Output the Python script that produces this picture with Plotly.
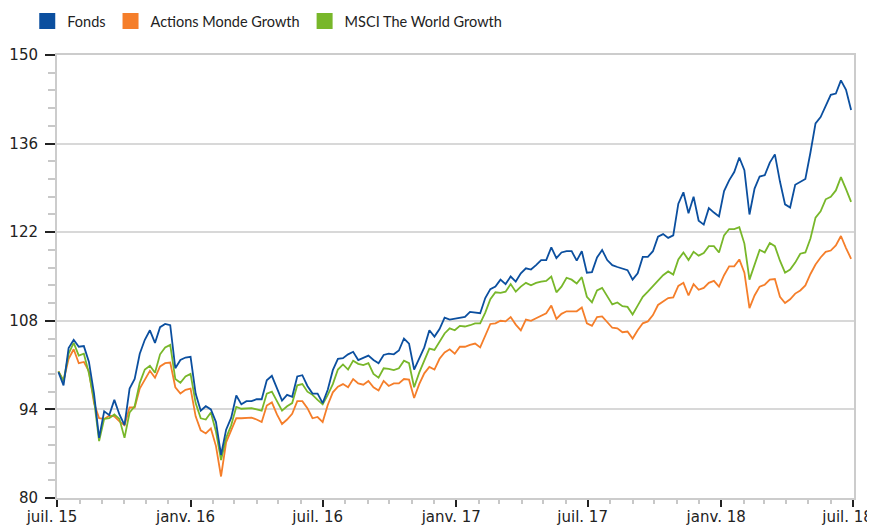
import pandas as pd
import plotly.graph_objects as go

# Weekly closing values (base 100)
fonds = [
    99.9, 97.8, 103.7, 105.0, 103.9, 104.0, 101.5, 96.5, 89.5, 93.7,
    93.1, 95.5, 93.2, 91.5, 97.3, 98.8, 102.8, 105.0, 106.5, 104.5,
    107.0, 107.5, 107.3, 100.5, 101.8, 102.2, 102.3, 96.5, 93.8, 94.5,
    94.0, 92.0, 86.8, 90.8, 92.7, 96.2, 94.8, 95.3, 95.3, 95.6,
    95.6, 98.6, 99.3, 97.3, 95.4, 96.3, 96.0, 99.2, 99.4, 97.7,
    96.5, 96.5, 95.0, 97.1, 100.2, 102.0, 102.1, 102.7, 103.1, 101.8,
    102.1, 102.5, 101.8, 101.3, 102.6, 102.8, 102.7, 103.3, 105.2, 104.4,
    100.3, 102.2, 103.8, 106.5, 105.5, 106.7, 108.5, 108.2, 108.3, 108.5,
    108.6, 109.4, 109.3, 109.2, 111.6, 113.0, 113.4, 114.5, 113.8, 115.0,
    114.2, 115.5, 116.3, 116.1, 116.8, 117.6, 117.6, 119.6, 117.9, 118.8,
    119.0, 119.0, 117.5, 119.0, 115.6, 115.7, 118.0, 119.2, 117.6, 116.8,
    116.5, 116.2, 116.0, 114.5, 115.5, 118.1, 118.1, 119.0, 121.3, 121.7,
    121.1, 121.5, 126.5, 128.3, 125.0, 127.6, 123.8, 123.2, 125.8, 125.1,
    124.5, 128.5, 130.2, 131.5, 133.8, 131.8, 124.8, 128.9, 130.8, 131.0,
    133.0, 134.3, 130.0, 126.4, 125.9, 129.5, 130.0, 130.4, 134.6, 139.2,
    140.2, 141.9, 143.7, 143.9, 146.0, 144.5, 141.3,
]

actions_monde_growth = [
    100.0, 98.5, 102.0, 103.5, 101.3, 101.5, 100.0, 95.0, 92.6, 92.5,
    93.0, 92.9, 92.1, 91.5, 94.3, 94.3, 97.3, 98.8, 100.1, 99.0,
    100.8, 101.3, 101.4, 97.5, 96.5, 97.1, 97.3, 92.9, 90.7, 90.2,
    91.0, 88.2, 83.4, 88.8, 90.7, 92.6, 92.6, 92.6, 92.7, 92.4,
    92.0, 94.6, 95.1, 93.2, 91.7, 92.4, 93.3, 95.3, 95.3, 94.2,
    92.6, 92.8, 92.0, 94.7, 96.7, 97.6, 98.0, 97.5, 98.8, 98.1,
    97.9, 98.5, 97.5, 97.0, 98.5, 97.7, 98.1, 98.1, 98.8, 98.7,
    95.8, 98.0, 99.7, 100.7, 100.3, 102.0, 103.0, 103.5, 102.8, 103.9,
    103.9, 104.2, 104.4, 103.8, 105.8, 107.5, 107.6, 108.0, 107.9, 108.6,
    107.4, 106.5, 108.2, 108.0, 108.4, 108.8, 109.2, 110.4, 108.3, 109.1,
    109.5, 109.5, 109.5, 110.1, 107.6, 107.2, 108.6, 108.7, 107.8, 106.9,
    106.8, 106.2, 106.3, 105.2, 106.5, 107.6, 107.9, 108.9, 110.5, 111.0,
    111.6, 111.7, 113.5, 114.0, 112.0, 113.8, 112.9, 113.2, 114.0, 114.3,
    113.4, 115.2, 116.6, 116.6, 117.7, 115.6, 110.0, 112.0, 113.4, 113.7,
    114.5, 114.6, 111.8, 110.8, 111.4, 112.3, 112.8, 113.6, 115.4, 116.9,
    118.0, 118.9, 119.1, 119.9, 121.4, 119.5, 117.8,
]

msci_world_growth = [
    100.0, 98.5, 102.8, 104.5, 102.5, 102.8, 99.7, 95.5, 89.0, 92.5,
    92.6, 93.2, 92.5, 89.5, 93.5, 94.5, 98.2, 100.3, 100.9, 99.8,
    102.7, 103.8, 104.2, 98.8, 98.2, 99.2, 99.6, 95.0, 92.6, 92.4,
    93.5, 90.5, 86.0, 89.5, 91.5, 94.4, 94.1, 94.2, 94.2, 94.0,
    93.8, 96.5, 96.8, 95.3, 93.8, 94.5, 95.0, 97.8, 98.0, 96.8,
    96.3, 95.5, 94.8, 96.3, 98.0, 100.3, 101.1, 100.3, 101.7, 101.2,
    101.0, 101.3, 99.6, 99.0, 100.5, 100.4, 100.2, 100.5, 101.7, 101.3,
    97.5, 99.8, 101.8, 103.6, 103.4, 104.8, 106.0, 106.8, 106.5, 107.2,
    107.1, 107.3, 107.6, 107.6, 109.3, 111.4, 112.5, 112.4, 112.6, 113.8,
    112.6, 113.4, 114.0, 113.6, 114.0, 114.2, 114.3, 115.0, 112.5, 113.4,
    114.8, 114.5, 113.9, 114.9, 111.8, 110.9, 112.8, 113.2, 111.8, 110.6,
    110.9, 110.3, 110.2, 109.0, 110.4, 111.8, 112.6, 113.5, 114.4, 115.2,
    115.8, 115.3, 117.7, 118.8, 117.6, 118.9, 118.3, 118.7, 119.8, 119.8,
    118.8, 121.5, 122.5, 122.5, 122.8, 120.2, 114.5, 117.0, 119.2, 118.8,
    120.3, 119.8, 117.5, 115.6, 116.1, 117.2, 118.6, 118.8, 121.0, 124.3,
    125.3, 127.2, 127.6, 128.6, 130.7, 128.8, 126.8,
]

dates = pd.date_range("2015-07-03", periods=len(fonds), freq="7D")

tick_dates = ["2015-07-01", "2016-01-01", "2016-07-01", "2017-01-01",
              "2017-07-01", "2018-01-01", "2018-07-01"]
tick_labels = ["juil. 15", "janv. 16", "juil. 16", "janv. 17",
               "juil. 17", "janv. 18", "juil. 18"]
y_ticks = [80, 94, 108, 122, 136, 150]

series = [
    ("Fonds", fonds, "#0b4f9f"),
    ("Actions Monde Growth", actions_monde_growth, "#f57e2a"),
    ("MSCI The World Growth", msci_world_growth, "#78b72a"),
]

fig = go.Figure()

# draw order: orange, green, blue (blue on top)
for name, vals, color in [series[1], series[2], series[0]]:
    fig.add_trace(go.Scatter(
        x=dates, y=vals, mode="lines", name=name,
        line=dict(color=color, width=1.8), showlegend=False,
        hoverinfo="x+y+name",
    ))

# legend entries with square swatches
for name, vals, color in series:
    fig.add_trace(go.Scatter(
        x=[None], y=[None], mode="markers", name=name,
        marker=dict(symbol="square", size=16, color=color),
        showlegend=True,
    ))

# the page adds an 8px body margin, so the figure margins compensate for it
fig.update_layout(
    width=875, height=526,
    margin=dict(l=49, r=29, t=47, b=36, autoexpand=False),
    paper_bgcolor="white", plot_bgcolor="white",
    showlegend=True,
    legend=dict(
        orientation="h", xref="container", yref="container",
        x=0.022, y=1 - 13 / 526, xanchor="left", yanchor="middle",
        font=dict(family="Lato, Open Sans, sans-serif", size=14.5, color="#222"),
        itemclick=False, itemdoubleclick=False,
        bgcolor="rgba(0,0,0,0)",
    ),
    xaxis=dict(
        type="date", range=["2015-07-01", "2018-07-03"], automargin=False,
        tickmode="array", tickvals=tick_dates, ticktext=tick_labels,
        ticklabeloverflow="allow", ticklabelshift=-5, ticklabelstandoff=-3,
        ticks="outside", ticklen=7, tickwidth=2, tickcolor="#222",
        tickfont=dict(family="DejaVu Sans, Verdana, sans-serif", size=15, color="#222"),
        showgrid=False, zeroline=False,
        showline=True, linecolor="#cccccc", linewidth=2, mirror=True,
        minor=dict(ticks="outside", ticklen=4, tickwidth=1.5, tickcolor="#c8c8c8",
                   dtick="M1", tick0="2015-07-01", showgrid=False),
    ),
    yaxis=dict(
        range=[80, 150], tickmode="array", tickvals=y_ticks, automargin=False,
        ticklabeloverflow="allow", ticklabelstandoff=4,
        ticks="outside", ticklen=10, tickwidth=2, tickcolor="#222",
        tickfont=dict(family="DejaVu Sans, Verdana, sans-serif", size=15, color="#222"),
        showgrid=True, gridcolor="#d8d8d8", gridwidth=2, zeroline=False,
        showline=True, linecolor="#cccccc", linewidth=2, mirror=True,
        minor=dict(ticks="outside", ticklen=7, tickwidth=1.5, tickcolor="#c8c8c8",
                   dtick=2.8, tick0=80, showgrid=False),
    ),
)

fig.write_html("out.html")
